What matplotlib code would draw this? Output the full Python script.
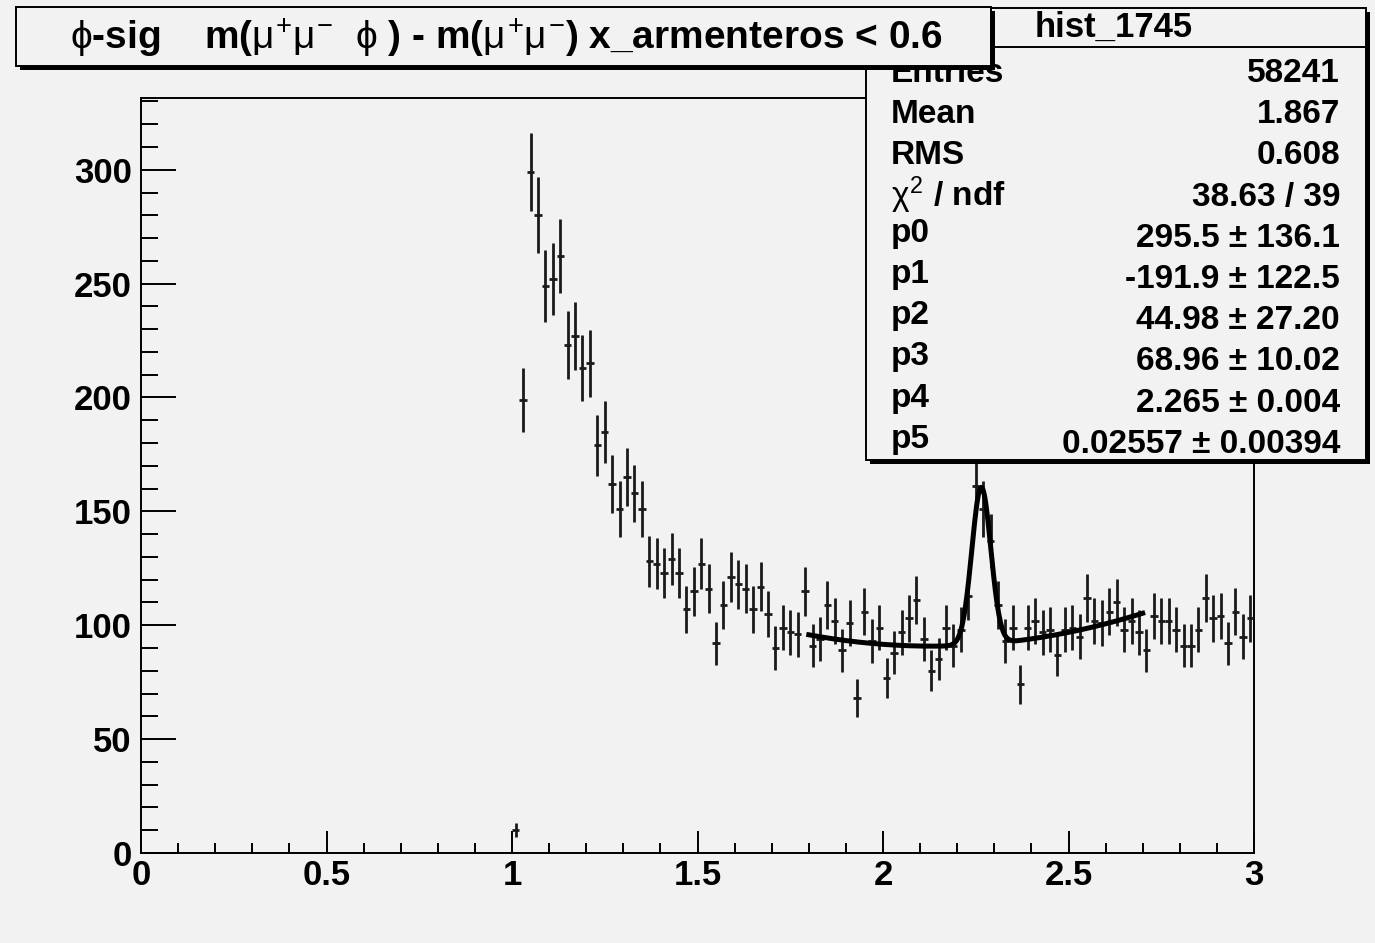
import numpy as np
import matplotlib.pyplot as plt
from matplotlib.patches import Rectangle
from matplotlib.lines import Line2D
from matplotlib.ticker import MultipleLocator

plt.rcParams['font.family'] = ['Liberation Sans', 'DejaVu Sans']
plt.rcParams['mathtext.fontset'] = 'custom'
plt.rcParams['mathtext.rm'] = 'Liberation Sans'
plt.rcParams['mathtext.it'] = 'Liberation Sans'
plt.rcParams['mathtext.bf'] = 'Liberation Sans:bold'
plt.rcParams['mathtext.fallback'] = 'stixsans'

# histogram: bins of width 0.02, first filled bin centred at 1.01
bin_width = 0.02
first_center = 1.01
counts = [10, 199, 299, 280, 249, 252, 262, 223, 227, 213,
          215, 179, 185, 162, 151, 165, 158, 151, 128, 127,
          123, 129, 123, 107, 115, 127, 116, 92, 109, 121,
          118, 116, 107, 117, 105, 90, 99, 97, 96, 115,
          91, 94, 109, 102, 89, 101, 68, 106, 93, 99,
          77, 88, 97, 103, 111, 94, 80, 85, 99, 91,
          98, 113, 161, 151, 137, 109, 93, 99, 74, 99,
          102, 97, 98, 87, 98, 99, 95, 112, 102, 101,
          106, 110, 98, 102, 97, 89, 104, 102, 102, 98,
          91, 91, 98, 112, 103, 104, 92, 106, 95, 103]

# fit: pol2 + gaus, parameters from the stats box
fit_params = [295.5, -191.9, 44.98, 68.96, 2.265, 0.02557]
fit_range = (1.8, 2.7)

title = (r"$\phi$-sig    m($\mu^{+}\mu^{-}$  $\phi$ ) - m($\mu^{+}\mu^{-}$)"
         " x_armenteros < 0.6")
hist_name = "hist_1745"
stat_labels = ["Entries", "Mean", "RMS", r"$\chi^{2}$ / ndf",
               "p0", "p1", "p2", "p3", "p4", "p5"]
stat_values = ["58241", "1.867", "0.608", "38.63 / 39",
               "295.5 \u00b1 136.1", "-191.9 \u00b1 122.5", "44.98 \u00b1 27.20",
               "68.96 \u00b1 10.02", "2.265 \u00b1 0.004", "0.02557 \u00b1 0.00394"]

x_ticks = [0, 0.5, 1, 1.5, 2, 2.5, 3]
x_ticklabels = ["0", "0.5", "1", "1.5", "2", "2.5", "3"]
y_ticks = [0, 50, 100, 150, 200, 250, 300]

W, H = 1375, 943
BG = '#f2f2f2'


def fx(px):
    return px / W


def fy(py):
    return 1 - py / H


def model(x, p):
    return p[0] + p[1] * x + p[2] * x ** 2 + p[3] * np.exp(-0.5 * ((x - p[4]) / p[5]) ** 2)


def pave(fig, x0, y0, x1, y1, z):
    # ROOT style box with shadow at bottom-right
    fig.patches.append(Rectangle((fx(x0 + 4), fy(y1 + 4)), fx(x1 - x0), (y1 - y0) / H,
                                 transform=fig.transFigure, facecolor='black',
                                 edgecolor='none', zorder=z))
    fig.patches.append(Rectangle((fx(x0), fy(y1)), fx(x1 - x0), (y1 - y0) / H,
                                 transform=fig.transFigure, facecolor=BG,
                                 edgecolor='black', lw=1.4, zorder=z + 0.1))


fig = plt.figure(figsize=(W / 100, H / 100), dpi=100, facecolor=BG)
ax = fig.add_axes([fx(141), fy(853), fx(1254 - 141), (853 - 98) / H], facecolor=BG)

counts = np.array(counts, dtype=float)
centers = first_center + bin_width * np.arange(len(counts))
ax.errorbar(centers, counts, yerr=np.sqrt(counts), xerr=bin_width / 2, fmt='none',
            ecolor='#1a1a1a', elinewidth=2.0, capsize=0, zorder=3)

xf = np.linspace(fit_range[0], fit_range[1], 400)
ax.plot(xf, model(xf, fit_params), color='black', lw=3.6, zorder=4)

ax.set_xlim(0, 3)
ax.set_ylim(0, 331.5)
ax.set_xticks(x_ticks, x_ticklabels)
ax.set_yticks(y_ticks, [str(v) for v in y_ticks])
ax.xaxis.set_minor_locator(MultipleLocator(0.1))
ax.yaxis.set_minor_locator(MultipleLocator(10))
ax.tick_params(axis='x', which='major', direction='in', length=16, width=1.4,
               labelsize=25, pad=4)
ax.tick_params(axis='x', which='minor', direction='in', length=7.5, width=1.4)
ax.tick_params(axis='y', which='major', direction='in', length=25, width=1.4,
               labelsize=25, pad=6.5)
ax.tick_params(axis='y', which='minor', direction='in', length=12.5, width=1.4)
for lbl in ax.get_xticklabels() + ax.get_yticklabels():
    lbl.set_fontweight('bold')
for sp in ax.spines.values():
    sp.set_linewidth(1.4)

# stats box
pave(fig, 866, 8, 1366, 460, 5)
fig.lines.append(Line2D([fx(866), fx(1366)], [fy(47), fy(47)], transform=fig.transFigure,
                        color='black', lw=1.4, zorder=5.2))
fig.text(fx(1114), fy(37), hist_name, ha='center', va='baseline', fontsize=25,
         fontweight='bold', zorder=5.3)
for i, (lab, val) in enumerate(zip(stat_labels, stat_values)):
    base = 82 + 41.2 * i
    lab_base = base - 5 if lab.startswith('p') else base
    fig.text(fx(891), fy(lab_base), lab, ha='left', va='baseline', fontsize=24,
             fontweight='bold', zorder=5.3)
    fig.text(fx(1340), fy(base), val, ha='right', va='baseline', fontsize=24,
             fontweight='bold', zorder=5.3)

# title box
pave(fig, 16, 7, 991, 66, 6)
fig.text(fx(506), fy(49), title, ha='center', va='baseline', fontsize=28,
         fontweight='bold', zorder=6.3)

fig.savefig('out.png', dpi=100, facecolor=BG)
